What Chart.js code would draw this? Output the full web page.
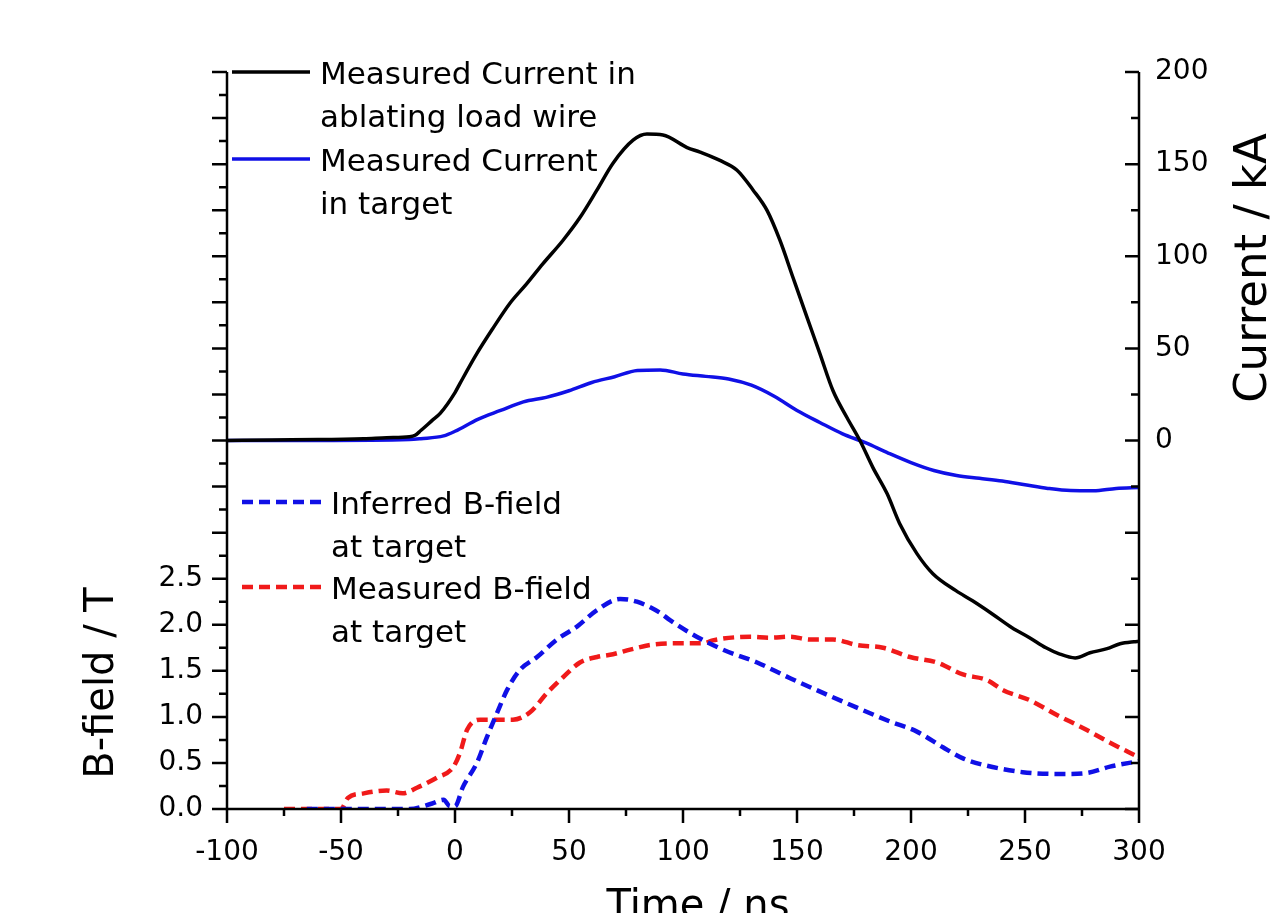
<!DOCTYPE html>
<html>
<head>
<meta charset="utf-8">
<script src="https://cdn.jsdelivr.net/npm/chart.js@4.4.0/dist/chart.umd.min.js"></script>
<style>
  html, body { margin: 0; padding: 0; background: #fff; overflow: hidden; }
  #chart { display: block; }
</style>
</head>
<body>
<canvas id="chart" width="1283" height="913"></canvas>
<script>
// measured current in the ablating load wire (kA)
const tLoad = [-100, -80, -60, -40, -30, -20, -17.5, -15, -10, -6.5, 0, 2.2, 9.5, 16.7, 24.1, 31.4, 38.6, 47.4, 54.8, 62.3, 69.3, 78.1, 84.2, 91.2, 101.8, 107.5, 116.2, 123.7, 130.7, 136.8, 142.5, 148.2, 154.4, 160, 165.8, 171.9, 177.6, 183.3, 189.5, 195, 202.6, 209.6, 219.7, 227, 235.5, 244.3, 252, 259.2, 265, 272, 278.5, 286, 291.7, 297.8, 300];
const iLoad = [0, 0.3, 0.5, 1, 1.5, 2, 2.8, 5.4, 10.9, 14.7, 26, 31, 47, 61, 74.5, 85, 96, 108.7, 121, 136, 150.5, 163, 166.3, 165.8, 159, 156.5, 152, 146.7, 136, 125, 108.7, 88.6, 66.8, 47.3, 27, 12.5, 0, -14.7, -28.8, -45, -61.4, -72.3, -81.5, -87, -94, -101.6, -107, -112.5, -115.8, -118, -115.2, -113, -110.3, -109.2, -109];

// measured current in target (kA)
const tTarget = [-100, -60, -20, -15, -5, 0, 10, 20, 30, 40, 50, 60, 70, 80, 90, 100, 110, 120, 130, 140, 150, 160, 170, 180, 190, 200, 210, 220, 230, 240, 250, 260, 270, 280, 290, 300];
const iTarget = [0, 0, 0.5, 1, 2.5, 5, 11.5, 16.3, 21, 23.4, 27, 31.5, 34.6, 38, 38.3, 36.1, 34.8, 33.4, 30, 24, 16.3, 9.8, 3.6, -1.2, -6.8, -12, -16.3, -19, -20.5, -22, -24, -26, -27.2, -27.3, -26, -25.5];

// inferred B-field at target (T)
const tInferred = [-65, -20, -10, -5, -2.2, 0, 3.5, 9.6, 14, 18.4, 22.8, 28.5, 36, 44.7, 53.5, 62.3, 72.4, 79.8, 89.9, 94.3, 106, 117.5, 132.5, 147, 161.4, 176.3, 190.8, 202.6, 214, 222.8, 231.6, 249, 266.7, 277, 287.3, 300];
const bInferred = [0, 0, 0.06, 0.1, 0.03, 0.03, 0.24, 0.5, 0.78, 1.04, 1.29, 1.51, 1.65, 1.84, 1.98, 2.16, 2.28, 2.25, 2.13, 2.05, 1.87, 1.73, 1.59, 1.42, 1.26, 1.10, 0.95, 0.84, 0.67, 0.55, 0.48, 0.40, 0.38, 0.39, 0.46, 0.52];

// measured B-field at target (T)
const tMeasured = [-75, -50, -47, -40, -30, -23, -16.7, -7.9, -0.9, 2.2, 5.3, 11, 18.4, 25.4, 32.9, 40.4, 47.4, 54.8, 62.3, 69.3, 76.8, 85.5, 97.4, 109, 113, 129.4, 138, 147, 155.7, 165.8, 176.3, 187.7, 199.6, 211.4, 222.8, 233.3, 240.4, 252.2, 264, 275.4, 287.3, 300];
const bMeasured = [0, 0, 0.12, 0.17, 0.2, 0.17, 0.23, 0.34, 0.45, 0.61, 0.86, 0.97, 0.97, 0.97, 1.05, 1.26, 1.43, 1.59, 1.65, 1.68, 1.73, 1.78, 1.80, 1.80, 1.83, 1.87, 1.86, 1.87, 1.84, 1.84, 1.78, 1.75, 1.65, 1.59, 1.46, 1.40, 1.29, 1.18, 1.02, 0.88, 0.72, 0.56];

// labelled ticks
const timeTicks = [-100, -50, 0, 50, 100, 150, 200, 250, 300];
const fieldTicks = [0, 0.5, 1.0, 1.5, 2.0, 2.5];
const currentTicks = [0, 50, 100, 150, 200];

const FONT = "'DejaVu Sans', sans-serif";
const BLUE = "#1010e6";
const RED = "#f01a1a";

function toPoints(xs, ys) {
    return xs.map((x, i) => ({ x: x, y: ys[i] }));
}

// axis lines, minor/major tick marks, titles and the two legend boxes
const decorations = {
    id: "decorations",
    afterDraw(chart) {
        const ctx = chart.ctx;
        const a = chart.chartArea;
        const sx = chart.scales.x, sb = chart.scales.yB, si = chart.scales.yI;
        ctx.save();
        ctx.strokeStyle = "#000";
        ctx.lineWidth = 2.5;
        ctx.lineCap = "butt";

        ctx.beginPath();
        ctx.moveTo(a.left, a.top); ctx.lineTo(a.left, a.bottom);
        ctx.lineTo(a.right, a.bottom);
        ctx.moveTo(a.right, a.top); ctx.lineTo(a.right, a.bottom);
        ctx.stroke();

        ctx.beginPath();
        for (let v = sx.min; v <= sx.max; v += 25) {
            const px = sx.getPixelForValue(v);
            const len = v % 50 === 0 ? 14 : 7;
            ctx.moveTo(px, a.bottom); ctx.lineTo(px, a.bottom + len);
        }
        for (let v = sb.min; v <= sb.max + 1e-9; v += 0.25) {
            const py = sb.getPixelForValue(v);
            const len = Math.abs(v * 2 - Math.round(v * 2)) < 1e-6 ? 15 : 8;
            ctx.moveTo(a.left, py); ctx.lineTo(a.left - len, py);
        }
        for (let v = si.min; v <= si.max; v += 25) {
            const py = si.getPixelForValue(v);
            const len = v % 50 === 0 ? 14 : 8;
            ctx.moveTo(a.right, py); ctx.lineTo(a.right - len, py);
        }
        ctx.stroke();

        ctx.fillStyle = "#000";
        ctx.textAlign = "center";
        ctx.textBaseline = "middle";
        ctx.font = "40px " + FONT;
        ctx.save();
        ctx.translate(103, 683);
        ctx.rotate(-Math.PI / 2);
        ctx.fillText("B-field / T", 0, 0);
        ctx.restore();
        ctx.font = "45px " + FONT;
        ctx.save();
        ctx.translate(1254, 268);
        ctx.rotate(-Math.PI / 2);
        ctx.fillText("Current / kA", 0, 0);
        ctx.restore();
        ctx.font = "40px " + FONT;
        ctx.textBaseline = "alphabetic";
        ctx.fillText("Time / ns", 698, 918);

        const entries = [
            { ds: 0, x0: 232, x1: 310, y: 72, tx: 320, lines: ["Measured Current in", "ablating load wire"] },
            { ds: 1, x0: 232, x1: 310, y: 159, tx: 320, lines: ["Measured Current", "in target"] },
            { ds: 2, x0: 242, x1: 323, y: 502, tx: 331, lines: ["Inferred B-field", "at target"] },
            { ds: 3, x0: 242, x1: 323, y: 587, tx: 331, lines: ["Measured B-field", "at target"] }
        ];
        ctx.font = "31px " + FONT;
        ctx.textAlign = "left";
        entries.forEach(e => {
            const d = chart.data.datasets[e.ds];
            ctx.save();
            ctx.strokeStyle = d.borderColor;
            ctx.lineWidth = d.borderWidth;
            ctx.setLineDash(d.borderDash || []);
            ctx.beginPath();
            ctx.moveTo(e.x0, e.y); ctx.lineTo(e.x1, e.y);
            ctx.stroke();
            ctx.restore();
            e.lines.forEach((t, k) => ctx.fillText(t, e.tx, e.y + 12 + k * 43));
        });
        ctx.restore();
    }
};

new Chart(document.getElementById("chart"), {
    type: "line",
    data: {
        datasets: [
            { label: "Measured Current in ablating load wire", data: toPoints(tLoad, iLoad), yAxisID: "yI",
              borderColor: "#000", borderWidth: 3.5, pointRadius: 0, cubicInterpolationMode: "monotone" },
            { label: "Measured Current in target", data: toPoints(tTarget, iTarget), yAxisID: "yI",
              borderColor: BLUE, borderWidth: 3.5, pointRadius: 0, cubicInterpolationMode: "monotone" },
            { label: "Inferred B-field at target", data: toPoints(tInferred, bInferred), yAxisID: "yB",
              borderColor: BLUE, borderWidth: 4.5, borderDash: [11, 6], pointRadius: 0, cubicInterpolationMode: "monotone" },
            { label: "Measured B-field at target", data: toPoints(tMeasured, bMeasured), yAxisID: "yB",
              borderColor: RED, borderWidth: 4.5, borderDash: [11, 6], pointRadius: 0, cubicInterpolationMode: "monotone" }
        ]
    },
    options: {
        responsive: false,
        devicePixelRatio: 1,
        animation: false,
        layout: { padding: { top: 72, left: 0, right: 0, bottom: 0 } },
        plugins: { legend: { display: false }, tooltip: { enabled: false } },
        scales: {
            x: {
                type: "linear", position: "bottom", min: -100, max: 300,
                afterBuildTicks: s => { s.ticks = timeTicks.map(v => ({ value: v })); },
                afterFit: s => { s.height = 104; },
                ticks: { font: { family: FONT, size: 28 }, color: "#000", padding: 27, maxRotation: 0, autoSkip: false },
                grid: { display: false, drawTicks: false },
                border: { display: false }
            },
            yB: {
                type: "linear", position: "left", min: 0, max: 8,
                afterBuildTicks: s => { s.ticks = fieldTicks.map(v => ({ value: v })); },
                afterFit: s => { s.width = 227; },
                ticks: { font: { family: FONT, size: 28 }, color: "#000", padding: 24, autoSkip: false,
                         callback: v => v.toFixed(1) },
                grid: { display: false, drawTicks: false },
                border: { display: false }
            },
            yI: {
                type: "linear", position: "right", min: -200, max: 200,
                afterBuildTicks: s => { s.ticks = currentTicks.map(v => ({ value: v })); },
                afterFit: s => { s.width = 144; },
                ticks: { font: { family: FONT, size: 28 }, color: "#000", padding: 16, autoSkip: false },
                grid: { display: false, drawTicks: false },
                border: { display: false }
            }
        }
    },
    plugins: [decorations]
});
</script>
</body>
</html>
